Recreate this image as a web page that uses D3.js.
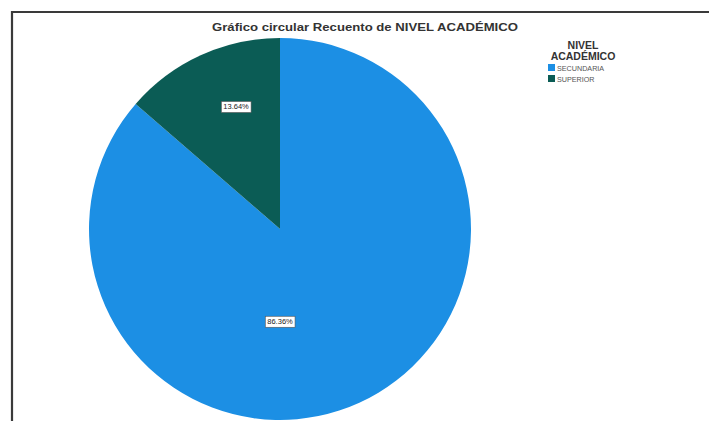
<!DOCTYPE html>
<html>
<head>
<meta charset="utf-8">
<script src="https://cdn.jsdelivr.net/npm/d3@7/dist/d3.min.js"></script>
<style>
  html, body { margin: 0; padding: 0; background: #fff; }
  svg { display: block; }
</style>
</head>
<body>
<svg id="chart" width="709" height="421"></svg>
<script>
// Recuento de NIVEL ACADÉMICO
const categories = ["SECUNDARIA", "SUPERIOR"];
const counts = [19, 3];
const colors = ["#1C8FE4", "#0B5C55"];
const chartTitle = "Gráfico circular Recuento de NIVEL ACADÉMICO";
const legendTitle = ["NIVEL", "ACADÉMICO"];

const svg = d3.select("#chart");
const W = 709, H = 421;

// frame
svg.append("path")
  .attr("d", `M12,${H} L12,12 L${W},12`)
  .attr("fill", "none")
  .attr("stroke", "#3a3a3a")
  .attr("stroke-width", 2.2);

// title (stretched horizontally)
svg.append("text")
  .attr("x", 365).attr("y", 31)
  .attr("text-anchor", "middle")
  .attr("font-family", "Liberation Sans, Arial, sans-serif")
  .attr("font-weight", "bold")
  .attr("font-size", 11)
  .attr("fill", "#333")
  .attr("textLength", 306)
  .attr("lengthAdjust", "spacingAndGlyphs")
  .text(chartTitle);

const cx = 280, cy = 229, R = 191;
const total = d3.sum(counts);
const data = categories.map((c, i) => ({ cat: c, value: counts[i], color: colors[i] }));

const pie = d3.pie().value(d => d.value).sort(null);
const arcs = pie(data);
const arc = d3.arc().innerRadius(0).outerRadius(R);

const g = svg.append("g").attr("transform", `translate(${cx},${cy})`);
g.selectAll("path.slice")
  .data(arcs)
  .join("path")
  .attr("class", "slice")
  .attr("d", arc)
  .attr("fill", d => d.data.color);

// percentage labels
const fmt = v => (v / total * 100).toFixed(2) + "%";
const labelArc = d3.arc().innerRadius(R * 0.68).outerRadius(R * 0.68);
const labelPos = arcs.map((d, i) => {
  if (i === 0) return [0, R * 0.485];
  const c = labelArc.centroid(d);
  return [c[0] + 10, c[1] - 4];
});

const lg = g.selectAll("g.lbl")
  .data(arcs)
  .join("g")
  .attr("class", "lbl")
  .attr("transform", (d, i) => `translate(${labelPos[i][0]},${labelPos[i][1]})`);

lg.each(function(d) {
  const sel = d3.select(this);
  const t = sel.append("text")
    .attr("text-anchor", "middle")
    .attr("dy", "0.35em")
    .attr("font-family", "Liberation Sans, Arial, sans-serif")
    .attr("font-size", 7.5)
    .attr("fill", "#222")
    .text(fmt(d.data.value));
  const bb = t.node().getBBox();
  sel.insert("rect", "text")
    .attr("x", bb.x - 2).attr("y", bb.y - 1)
    .attr("width", bb.width + 4).attr("height", bb.height + 2)
    .attr("fill", "#fff")
    .attr("stroke", "#555")
    .attr("stroke-width", 0.6);
});

// legend
const legend = svg.append("g").attr("transform", "translate(583,0)");
legend.selectAll("text.lt")
  .data(legendTitle)
  .join("text")
  .attr("class", "lt")
  .attr("x", 0)
  .attr("y", (d, i) => 49 + i * 11)
  .attr("text-anchor", "middle")
  .attr("font-family", "Liberation Sans, Arial, sans-serif")
  .attr("font-weight", "bold")
  .attr("font-size", 10.5)
  .attr("fill", "#333")
  .text(d => d);

const items = legend.selectAll("g.item")
  .data(data)
  .join("g")
  .attr("class", "item")
  .attr("transform", (d, i) => `translate(-35,${64 + i * 11})`);
items.append("rect")
  .attr("width", 7).attr("height", 7)
  .attr("fill", d => d.color);
items.append("text")
  .attr("x", 9).attr("y", 6.5)
  .attr("font-family", "Liberation Sans, Arial, sans-serif")
  .attr("font-size", 7.2)
  .attr("fill", "#555")
  .text(d => d.cat);
</script>
</body>
</html>
